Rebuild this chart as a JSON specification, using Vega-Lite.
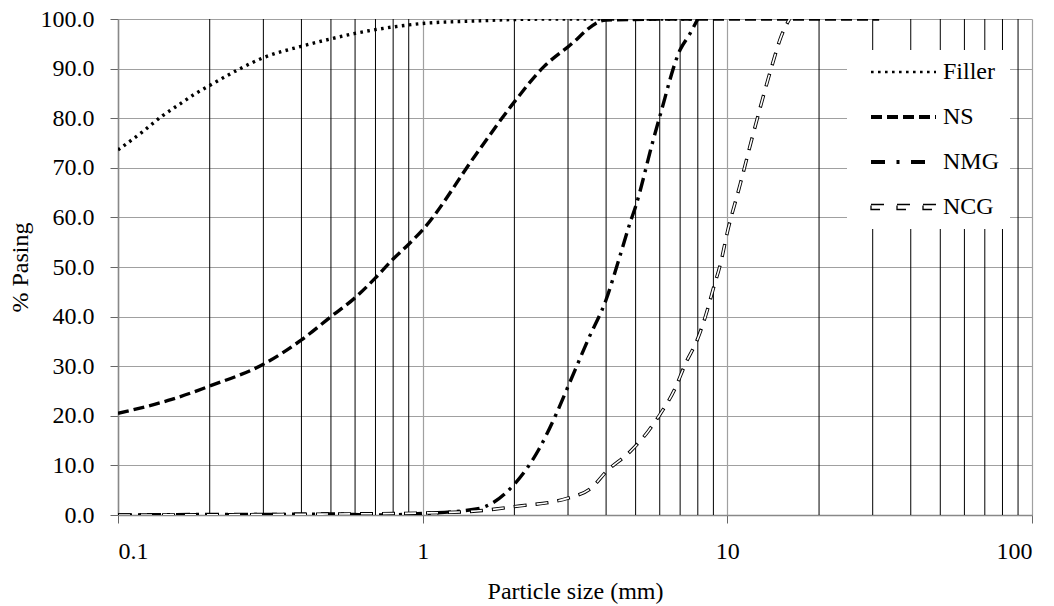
{
  "$schema": "https://vega.github.io/schema/vega-lite/v6.json",
  "width": 914,
  "height": 496,
  "autosize": {"type": "none"},
  "padding": {"left": 118, "top": 19, "right": 22, "bottom": 91},
  "background": "white",
  "config": {
    "view": {"stroke": null},
    "font": "Liberation Serif",
    "axis": {
      "labelFont": "Liberation Serif",
      "labelFontSize": 24,
      "labelColor": "black",
      "titleFont": "Liberation Serif",
      "titleFontSize": 24,
      "titleFontWeight": "normal",
      "titleColor": "black",
      "tickSize": 8,
      "tickColor": "#666",
      "domainColor": "#888",
      "domainWidth": 1.5,
      "gridColor": "#a0a0a0",
      "gridWidth": 1.2
    },
    "legend": {
      "symbolType": "M-1,0L12,0",
      "symbolSize": 100,
      "symbolStrokeColor": "black",
      "labelFont": "Liberation Serif",
      "labelFontSize": 24,
      "labelColor": "black"
    }
  },
  "datasets": {
    "minor": [
      {"x": 0.2}, {"x": 0.3}, {"x": 0.4}, {"x": 0.5}, {"x": 0.6}, {"x": 0.7}, {"x": 0.8}, {"x": 0.9},
      {"x": 2}, {"x": 3}, {"x": 4}, {"x": 5}, {"x": 6}, {"x": 7}, {"x": 8}, {"x": 9},
      {"x": 20}, {"x": 30}, {"x": 40}, {"x": 50}, {"x": 60}, {"x": 70}, {"x": 80}, {"x": 90}
    ],
    "curves": [
      {"s": "Filler", "x": 0.1, "y": 73.6},
      {"s": "Filler", "x": 0.12, "y": 77.2},
      {"s": "Filler", "x": 0.14, "y": 80.5},
      {"s": "Filler", "x": 0.16, "y": 82.9},
      {"s": "Filler", "x": 0.18, "y": 85.0},
      {"s": "Filler", "x": 0.2, "y": 86.6},
      {"s": "Filler", "x": 0.25, "y": 89.9},
      {"s": "Filler", "x": 0.3, "y": 92.2},
      {"s": "Filler", "x": 0.4, "y": 94.5},
      {"s": "Filler", "x": 0.5, "y": 96.0},
      {"s": "Filler", "x": 0.6, "y": 97.1},
      {"s": "Filler", "x": 0.8, "y": 98.4},
      {"s": "Filler", "x": 1, "y": 99.1},
      {"s": "Filler", "x": 1.5, "y": 99.6},
      {"s": "Filler", "x": 2, "y": 99.9},
      {"s": "Filler", "x": 3, "y": 100},
      {"s": "Filler", "x": 4, "y": 100},
      {"s": "Filler", "x": 8, "y": 100},
      {"s": "NS", "x": 0.1, "y": 20.5},
      {"s": "NS", "x": 0.15, "y": 23.3},
      {"s": "NS", "x": 0.2, "y": 26.0},
      {"s": "NS", "x": 0.3, "y": 30.4},
      {"s": "NS", "x": 0.4, "y": 35.3},
      {"s": "NS", "x": 0.5, "y": 40.0},
      {"s": "NS", "x": 0.6, "y": 43.8},
      {"s": "NS", "x": 0.7, "y": 47.8},
      {"s": "NS", "x": 0.8, "y": 51.6},
      {"s": "NS", "x": 0.9, "y": 54.6},
      {"s": "NS", "x": 1, "y": 57.5},
      {"s": "NS", "x": 1.5, "y": 72.8},
      {"s": "NS", "x": 2, "y": 83.3},
      {"s": "NS", "x": 2.5, "y": 90.4},
      {"s": "NS", "x": 3, "y": 94.4},
      {"s": "NS", "x": 4, "y": 99.8},
      {"s": "NS", "x": 8, "y": 100},
      {"s": "NS", "x": 16, "y": 100},
      {"s": "NS", "x": 31.5, "y": 100},
      {"s": "NMG", "x": 0.1, "y": 0},
      {"s": "NMG", "x": 0.2, "y": 0.1},
      {"s": "NMG", "x": 0.3, "y": 0.1},
      {"s": "NMG", "x": 0.5, "y": 0.2},
      {"s": "NMG", "x": 0.7, "y": 0},
      {"s": "NMG", "x": 1, "y": 0.3},
      {"s": "NMG", "x": 1.5, "y": 1.2},
      {"s": "NMG", "x": 2, "y": 6.2},
      {"s": "NMG", "x": 2.4, "y": 13.1},
      {"s": "NMG", "x": 2.75, "y": 20.5},
      {"s": "NMG", "x": 3, "y": 25.9},
      {"s": "NMG", "x": 3.5, "y": 35.5},
      {"s": "NMG", "x": 4, "y": 43.4},
      {"s": "NMG", "x": 4.4, "y": 51.4},
      {"s": "NMG", "x": 4.8, "y": 59.0},
      {"s": "NMG", "x": 5, "y": 62.2},
      {"s": "NMG", "x": 5.7, "y": 75.4},
      {"s": "NMG", "x": 6, "y": 80.3},
      {"s": "NMG", "x": 7, "y": 93.8},
      {"s": "NMG", "x": 7.5, "y": 96.8},
      {"s": "NMG", "x": 8, "y": 100},
      {"s": "NCG", "x": 0.1, "y": 0},
      {"s": "NCG", "x": 0.3, "y": 0.1},
      {"s": "NCG", "x": 0.5, "y": 0.2},
      {"s": "NCG", "x": 1, "y": 0.4},
      {"s": "NCG", "x": 1.5, "y": 0.8},
      {"s": "NCG", "x": 2, "y": 1.7},
      {"s": "NCG", "x": 3, "y": 3.4},
      {"s": "NCG", "x": 3.6, "y": 5.6},
      {"s": "NCG", "x": 4, "y": 8.7},
      {"s": "NCG", "x": 4.8, "y": 12.8},
      {"s": "NCG", "x": 5.5, "y": 16.9},
      {"s": "NCG", "x": 6, "y": 20.2},
      {"s": "NCG", "x": 6.7, "y": 25.2},
      {"s": "NCG", "x": 7.3, "y": 30.6},
      {"s": "NCG", "x": 8, "y": 35.6},
      {"s": "NCG", "x": 8.5, "y": 40.3},
      {"s": "NCG", "x": 9, "y": 45.7},
      {"s": "NCG", "x": 9.5, "y": 50.7},
      {"s": "NCG", "x": 10, "y": 57.0},
      {"s": "NCG", "x": 11, "y": 66.5},
      {"s": "NCG", "x": 12, "y": 75.5},
      {"s": "NCG", "x": 13, "y": 83.5},
      {"s": "NCG", "x": 14, "y": 90.5},
      {"s": "NCG", "x": 15, "y": 96.4},
      {"s": "NCG", "x": 16, "y": 100}
    ]
  },
  "layer": [
    {
      "data": {"name": "minor"},
      "mark": {"type": "rule", "color": "black", "strokeWidth": 1},
      "encoding": {
        "x": {
          "field": "x", "type": "quantitative",
          "scale": {"type": "log", "domain": [0.1, 100], "nice": false},
          "axis": {
            "title": "Particle size (mm)",
            "values": [0.1, 1, 10, 100],
            "format": "~g",
            "grid": true,
            "labelPadding": 16,
            "titlePadding": 16
          }
        }
      }
    },
    {
      "data": {"name": "curves"},
      "mark": {"type": "line", "interpolate": "monotone", "color": "black", "strokeWidth": 3.4, "clip": true},
      "encoding": {
        "x": {"field": "x", "type": "quantitative"},
        "y": {
          "field": "y", "type": "quantitative",
          "scale": {"domain": [0, 100], "nice": false},
          "axis": {
            "title": "% Pasing",
            "values": [0, 10, 20, 30, 40, 50, 60, 70, 80, 90, 100],
            "format": ".1f",
            "grid": true,
            "labelPadding": 16,
            "titlePadding": 8
          }
        },
        "detail": {"field": "s"},
        "strokeDash": {
          "field": "s", "type": "nominal",
          "scale": {
            "domain": ["Filler", "NS", "NMG", "NCG"],
            "range": [[2.6, 4.4], [11, 5], [14, 6, 3, 6], [13, 9]]
          },
          "legend": {
            "title": null,
            "orient": "none",
            "legendX": 729,
            "legendY": 31,
            "fillColor": "white",
            "padding": 10,
            "symbolOffset": 7,
            "labelOffset": 55,
            "rowPadding": 21,
            "encode": {
              "symbols": {
                "update": {
                  "shape": {"signal": "datum.value === 'NCG' ? 'M-1,-0.5H1.6V0.5H-1Z M4.2,-0.5H6.8V0.5H4.2Z M9.4,-0.5H12V0.5H9.4Z' : datum.value === 'NMG' ? 'M-1,0L2,0M4.1,0L4.7,0M7,0L10,0' : 'M-1,0L12,0'"},
                  "fill": {"signal": "datum.value === 'NCG' ? 'white' : 'transparent'"},
                  "stroke": {"value": "black"},
                  "strokeDash": {"signal": "datum.value === 'Filler' ? [2, 4.5] : datum.value === 'NS' ? [11, 3] : []"},
                  "strokeWidth": {"signal": "datum.value === 'NCG' ? 1.3 : datum.value === 'Filler' ? 2.4 : 4"}
                }
              }
            }
          }
        }
      }
    },
    {
      "data": {"name": "curves"},
      "transform": [{"filter": "datum.s === 'NCG'"}],
      "mark": {"type": "line", "interpolate": "monotone", "color": "white", "strokeWidth": 1.6, "strokeDash": [11, 11], "strokeDashOffset": -1, "clip": true},
      "encoding": {
        "x": {"field": "x", "type": "quantitative"},
        "y": {"field": "y", "type": "quantitative"}
      }
    }
  ]
}
